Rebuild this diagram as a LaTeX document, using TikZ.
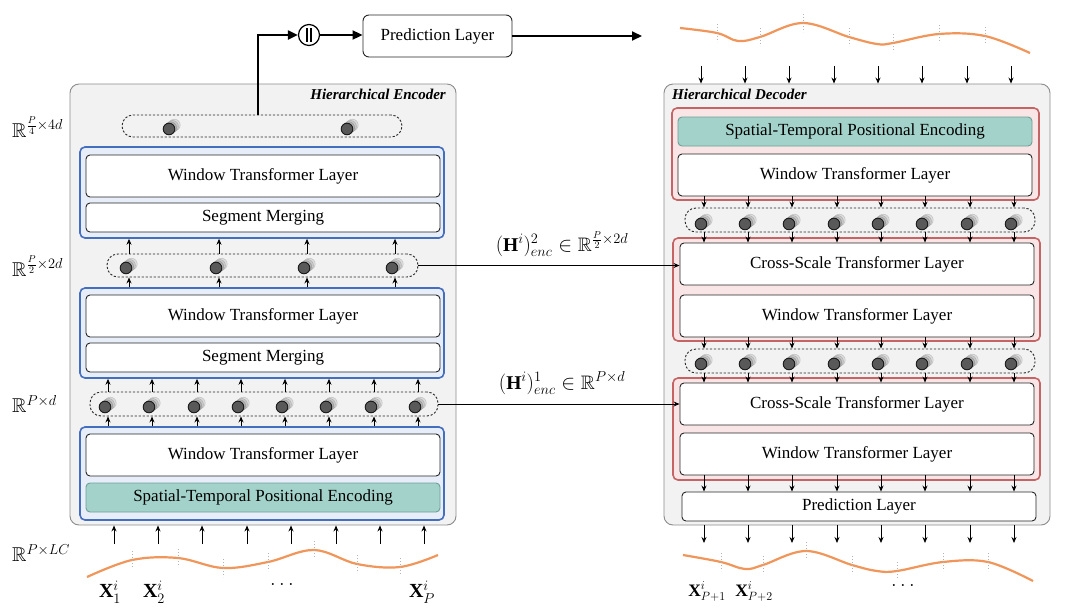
\documentclass[tikz,border=0pt]{standalone}
\usepackage{amssymb}
\usepackage{fontspec}
\setmainfont{Liberation Serif}
\usetikzlibrary{arrows.meta,calc}
\definecolor{outerfill}{RGB}{242,242,242}
\definecolor{outerdraw}{RGB}{140,140,140}
\definecolor{encblue}{RGB}{68,110,190}
\definecolor{encbluefill}{RGB}{231,238,249}
\definecolor{decred}{RGB}{196,100,100}
\definecolor{decredfill}{RGB}{249,229,229}
\definecolor{tealfill}{RGB}{163,210,202}
\definecolor{tealdraw}{RGB}{110,160,150}
\definecolor{wave}{RGB}{240,150,90}
\tikzset{
  outerbox/.style={draw=outerdraw, fill=outerfill, rounded corners=9pt, line width=0.9pt, minimum width=386, minimum height=441},
  bluegrp/.style={draw=encblue, fill=encbluefill, rounded corners=5pt, line width=1.6pt, minimum width=364},
  redgrp/.style={draw=decred, fill=decredfill, rounded corners=5pt, line width=1.6pt, minimum width=367},
  layer/.style={draw=black!85, fill=white, rounded corners=4pt, line width=0.9pt, minimum width=354, font=\fontsize{17}{20}\selectfont, inner sep=0pt},
  tealbox/.style={layer, draw=tealdraw, fill=tealfill},
  pill/.style={draw=black!85, dashed, dash pattern=on 2.2pt off 1.8pt, line width=0.9pt, rounded corners=11pt, fill=none},
  arr/.style={-{Stealth[length=6pt,width=5pt]}, line width=0.8pt, black},
  thickarr/.style={-{Triangle[length=10pt,width=9pt]}, line width=2pt, black},
  lbl/.style={font=\fontsize{20}{24}\selectfont, inner sep=0pt},
  slbl/.style={font=\fontsize{17.5}{21}\selectfont, inner sep=0pt},
  hlbl/.style={font=\fontsize{19.5}{23}\selectfont, inner sep=0pt},
  wv/.style={draw=wave, line width=2.2pt},
  tick/.style={draw=gray!60, dotted, line width=1pt},
  cyl/.pic={
    \filldraw[draw=gray!50, fill=gray!25, line width=0.5pt] (5.4,-4.0) circle (5.8);
    \filldraw[draw=gray!65, fill=gray!42, line width=0.5pt] (3.6,-2.7) circle (5.8);
    \filldraw[draw=gray!80, fill=gray!60, line width=0.5pt] (1.8,-1.35) circle (5.8);
    \filldraw[draw=black!90, fill=black!65, line width=0.9pt] (0,0) circle (5.8);
  }
}
\begin{document}
\begin{tikzpicture}[x=1pt,y=-1pt]
\useasboundingbox (0,0) rectangle (1080,614);
\fill[white] (0,0) rectangle (1080,614);

% ================= ENCODER =================
\node[outerbox] (enc) at (263,304.5) {};
\node[anchor=north east, font=\fontsize{15}{17}\selectfont\bfseries\itshape, inner sep=0pt] (enctitle) at (446,89) {Hierarchical Encoder};

\node[pill, minimum width=280, minimum height=22] (pill1) at (262,126) {};
\node[bluegrp, minimum height=91] (blue1) at (262,192.5) {};
\node[layer, minimum height=42] (ewtl3) at (263,176) {Window Transformer Layer};
\node[layer, minimum height=29] (esm2) at (263,217.5) {Segment Merging};

\node[pill, minimum width=311, minimum height=23] (pill2) at (262.5,265.5) {};
\node[bluegrp, minimum height=90] (blue2) at (262,333) {};
\node[layer, minimum height=42] (ewtl2) at (263,316) {Window Transformer Layer};
\node[layer, minimum height=29] (esm1) at (263,357.5) {Segment Merging};

\node[pill, minimum width=348, minimum height=24] (pill3) at (264,404) {};
\node[bluegrp, minimum height=93] (blue3) at (262,473.5) {};
\node[layer, minimum height=42] (ewtl1) at (263,455) {Window Transformer Layer};
\node[tealbox, minimum height=29] (estpe) at (263,497.5) {Spatial-Temporal Positional Encoding};

% cylinders
\foreach \x in {172,350} { \pic at (\x-3,129) {cyl}; }
\foreach \x in {129,219,307,395} { \pic at (\x-3,268) {cyl}; }
\foreach \x in {108,152,197,241,285,329,374,418} { \pic at (\x-3,407) {cyl}; }

% arrows in encoder
\foreach \x in {129,219,307,395} {
  \coordinate (t) at (\x,0);
  \draw[arr] (pill2.north -| t) -- (blue1.south -| t);
  \draw[arr] (blue2.north -| t) -- (pill2.south -| t);
}
\foreach \x in {108,152,197,241,285,329,374,418} {
  \coordinate (t) at (\x,0);
  \draw[arr] (pill3.north -| t) -- (blue2.south -| t);
  \draw[arr] (blue3.north -| t) -- (pill3.south -| t);
}
\foreach \x in {114,158,202,247,291,336,380,424} {
  \coordinate (t) at (\x,544);
  \draw[arr] (t) -- (enc.south -| t);
}

% dimension labels
\node[lbl, anchor=west] (r4) at (12,127) {$\mathbb{R}^{\frac{P}{4}\times 4d}$};
\node[lbl, anchor=west] (r2) at (12,266) {$\mathbb{R}^{\frac{P}{2}\times 2d}$};
\node[lbl, anchor=west] (r1) at (12,404) {$\mathbb{R}^{P\times d}$};
\node[lbl, anchor=west] (r0) at (12,553) {$\mathbb{R}^{P\times LC}$};

% input wave
\draw[wv] plot[smooth, tension=0.6] coordinates {(87,577) (132,560) (178,558) (223,568) (268,562) (314,550) (357,564) (400,567) (438,555)};
\foreach \x/\y in {132/560,178/558,223/568,268/562,314/550,357/564,400/567} {
  \draw[tick] (\x,\y-9) -- (\x,\y+9);
}
\node[lbl] (x1) at (110,592) {$\mathbf{X}_1^i$};
\node[lbl] (x2) at (154,592) {$\mathbf{X}_2^i$};
\node[lbl] (xd) at (282,584) {$\dots$};
\node[lbl] (xp) at (422,592) {$\mathbf{X}_P^i$};

% ================= TOP PREDICTION =================
\node[circle, draw=black, line width=1.2pt, minimum size=21, inner sep=0pt, fill=white] (cat) at (309,35) {};
\draw[line width=1.1pt] ($(cat.center)+(-2,-7)$) -- ($(cat.center)+(-2,7)$);
\draw[line width=1.1pt] ($(cat.center)+(2,-7)$) -- ($(cat.center)+(2,7)$);
\node[layer, minimum width=149, minimum height=42, rounded corners=6pt] (predtop) at (437.5,36) {Prediction Layer};
\coordinate (up) at (258,0);
\draw[thickarr] (pill1.north -| up) |- (cat.west);
\draw[thickarr] (cat.east) -- (predtop.west |- cat.east);
\coordinate (predout) at (642,36);
\draw[thickarr] (predtop.east) -- (predout);

% ================= DECODER =================
\node[outerbox] (dec) at (857,304.5) {};
\node[anchor=north west, font=\fontsize{15}{17}\selectfont\bfseries\itshape, inner sep=0pt] (dectitle) at (672,89) {Hierarchical Decoder};

\node[redgrp, minimum height=92] (red1) at (855.5,154) {};
\node[tealbox, minimum height=29] (dstpe) at (855,131.5) {Spatial-Temporal Positional Encoding};
\node[layer, minimum height=42] (dwtl1) at (855,175) {Window Transformer Layer};

\node[pill, minimum width=350, minimum height=24] (dpill1) at (860,220) {};

\node[redgrp, minimum height=103] (red2) at (856.5,289.5) {};
\node[layer, minimum height=42] (dcst1) at (857,264) {Cross-Scale Transformer Layer};
\node[layer, minimum height=42] (dwtl2) at (857,316) {Window Transformer Layer};

\node[pill, minimum width=350, minimum height=24] (dpill2) at (860,361) {};

\node[redgrp, minimum height=102] (red3) at (856.5,429) {};
\node[layer, minimum height=42] (dcst2) at (857,404) {Cross-Scale Transformer Layer};
\node[layer, minimum height=42] (dwtl3) at (857,454) {Window Transformer Layer};

\node[layer, minimum height=29] (dpred) at (859,506.5) {Prediction Layer};

\foreach \x in {704,748,792,837,881,925,970,1014} {
  \pic at (\x-3,224) {cyl};
  \pic at (\x-3,364) {cyl};
  \coordinate (t) at (\x,0);
  \draw[arr] (dwtl1.south -| t) -- (dpill1.north -| t);
  \draw[arr] (dpill1.south -| t) -- (dcst1.north -| t);
  \draw[arr] (dwtl2.south -| t) -- (dpill2.north -| t);
  \draw[arr] (dpill2.south -| t) -- (dcst2.north -| t);
  \draw[arr] (dwtl3.south -| t) -- (dpred.north -| t);
  \coordinate (b) at (\x,543);
  \draw[arr] (dec.south -| t) -- (b);
}
\foreach \x in {701,745,789,834,878,922,967,1011} {
  \coordinate (tt) at (\x,66);
  \draw[arr] (tt) -- (dec.north -| tt);
}

% top wave (prediction output)
\draw[wv] plot[smooth, tension=0.6] coordinates {(680,28) (717,33) (738,41) (760,37) (803,23) (849,37) (877,44) (893,43) (939,34) (985,36) (1030,53)};
\foreach \x/\y in {717/33,760/37,803/23,849/37,893/43,939/34,985/36} {
  \draw[tick] (\x,\y-9) -- (\x,\y+9);
}

% bottom wave (decoder output)
\draw[wv] plot[smooth, tension=0.6] coordinates {(683,555) (721,562) (745,569) (763,565) (806,551) (852,565) (877,571) (897,571) (943,562) (988,562) (1033,581)};
\foreach \x/\y in {721/562,763/565,806/551,852/565,897/571,943/562,988/562} {
  \draw[tick] (\x,\y-9) -- (\x,\y+9);
}
\node[slbl] (y1) at (707,592) {$\mathbf{X}_{P+1}^i$};
\node[slbl] (y2) at (754,592) {$\mathbf{X}_{P+2}^i$};
\node[lbl] (yd) at (903,585) {$\dots$};

% ================= CROSS CONNECTIONS =================
\draw[arr] (pill2.east) -- (pill2.east -| dcst1.west);
\node[hlbl] (h2) at (562,244) {$(\mathbf{H}^i)^2_{enc} \in \mathbb{R}^{\frac{P}{2}\times 2d}$};
\draw[arr] (pill3.east) -- (pill3.east -| dcst2.west);
\node[hlbl] (h1) at (562,383) {$(\mathbf{H}^i)^1_{enc} \in \mathbb{R}^{P\times d}$};
\end{tikzpicture}
\end{document}
